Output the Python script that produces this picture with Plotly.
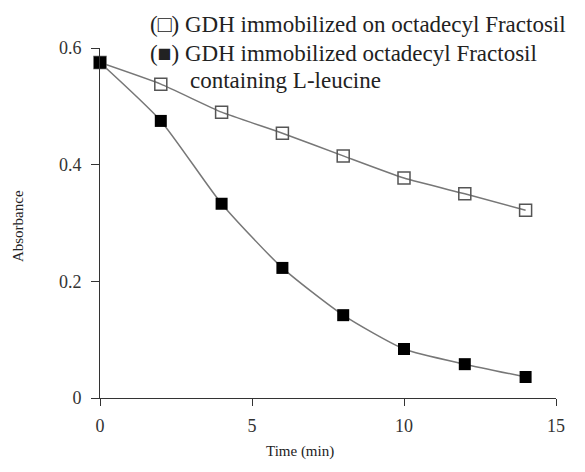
import plotly.graph_objects as go

time_min = [0, 2, 4, 6, 8, 10, 12, 14]
abs_octadecyl = [0.575, 0.538, 0.490, 0.454, 0.415, 0.377, 0.350, 0.322]
abs_leucine = [0.575, 0.475, 0.333, 0.223, 0.142, 0.084, 0.058, 0.036]

x_ticks = [0, 5, 10, 15]
y_ticks = [0, 0.2, 0.4, 0.6]
y_tick_labels = ["0", "0.2", "0.4", "0.6"]

legend_lines = [
    "(\u25a1) GDH immobilized on octadecyl Fractosil",
    "(\u25a0) GDH immobilized octadecyl Fractosil",
    "containing L-leucine",
]
legend_x = [0.105, 0.105, 0.193]
legend_y = [1.066, 0.985, 0.908]

FONT = "Liberation Serif"
line_col = "#777777"

fig = go.Figure()
fig.add_trace(go.Scatter(
    x=time_min, y=abs_octadecyl, mode="lines+markers",
    line=dict(color=line_col, width=1.5, shape="spline", smoothing=0.5),
    marker=dict(symbol="square-open", size=12, color="#555555", line=dict(width=1.5)),
    showlegend=False, cliponaxis=False,
))
fig.add_trace(go.Scatter(
    x=time_min, y=abs_leucine, mode="lines+markers",
    line=dict(color=line_col, width=1.5, shape="spline", smoothing=0.6),
    marker=dict(symbol="square", size=12, color="black"),
    showlegend=False, cliponaxis=False,
))

for txt, lx, ly in zip(legend_lines, legend_x, legend_y):
    fig.add_annotation(
        text=txt, xref="paper", yref="paper", x=lx, y=ly,
        xanchor="left", yanchor="middle", showarrow=False,
        font=dict(family=FONT, size=23, color="#222222"),
    )

# axis titles as annotations so the plot box stays put
fig.add_annotation(
    text="Time (min)", xref="paper", yref="paper", x=0.439, y=-0.154,
    xanchor="center", yanchor="middle", showarrow=False,
    font=dict(family=FONT, size=15, color="#222"),
)
fig.add_annotation(
    text="Absorbance", xref="paper", yref="paper", x=-0.18, y=0.491, textangle=-90,
    xanchor="center", yanchor="middle", showarrow=False,
    font=dict(family=FONT, size=15, color="#222"),
)

fig.update_xaxes(
    range=[0, 15], tickvals=x_ticks, ticks="outside", ticklen=7, tickcolor="#333",
    showline=True, linecolor="#333", linewidth=1, showgrid=False, zeroline=False,
    tickfont=dict(family=FONT, size=18, color="#333"), ticklabelstandoff=4, automargin=False,
)
fig.update_yaxes(
    range=[0, 0.6], tickvals=y_ticks, ticktext=y_tick_labels, ticks="outside", ticklen=8,
    tickcolor="#333", showline=True, linecolor="#333", linewidth=1, showgrid=False,
    zeroline=False, tickfont=dict(family=FONT, size=18, color="#333"), ticklabelstandoff=6,
    automargin=False,
)
fig.update_layout(
    width=585, height=472, plot_bgcolor="white", paper_bgcolor="white",
    margin=dict(l=92, r=37, t=40, b=82),
)
fig.write_html("out.html")
